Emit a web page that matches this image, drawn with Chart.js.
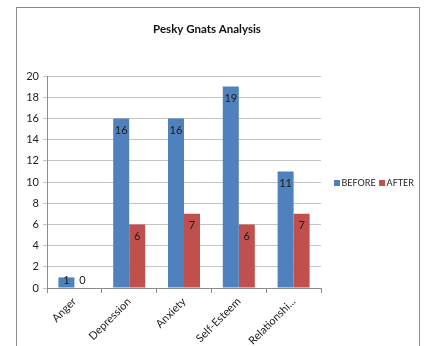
<!DOCTYPE html>
<html>
<head>
<meta charset="utf-8">
<style>
  html, body { margin: 0; padding: 0; background: #fff; }
  #wrap { width: 424px; height: 346px; }
</style>
<script src="https://cdn.jsdelivr.net/npm/chart.js@4/dist/chart.umd.min.js"></script>
</head>
<body>
<div id="wrap"><canvas id="c" width="424" height="346"></canvas></div>
<script>
const chartTitle = 'Pesky Gnats Analysis';
const categories = ['Anger', 'Depression', 'Anxiety', 'Self-Esteem', 'Relationshi...'];
const seriesNames = ['BEFORE', 'AFTER'];
const beforeValues = [1, 16, 16, 19, 11];
const afterValues = [0, 6, 7, 6, 7];
const yTicks = [0, 2, 4, 6, 8, 10, 12, 14, 16, 18, 20];

const FONT = 'Lato, "Open Sans", sans-serif';
const colors = ['#4F81BD', '#C0504D'];

// Frame, title and legend drawn around the plot
const decor = {
  id: 'decor',
  beforeDraw(chart) {
    const ctx = chart.ctx;
    ctx.save();
    ctx.fillStyle = '#fff';
    ctx.fillRect(0, 0, chart.width, chart.height);
    ctx.strokeStyle = '#8c8c8c';
    ctx.lineWidth = 1;
    ctx.strokeRect(16.5, 7.5, 403, 360);
    ctx.restore();
  },
  afterDraw(chart) {
    const ctx = chart.ctx;
    ctx.save();
    ctx.fillStyle = '#111';
    ctx.font = 'bold 11.5px ' + FONT;
    ctx.textAlign = 'center';
    ctx.textBaseline = 'middle';
    ctx.fillText(chartTitle, 207, 29);

    // legend
    ctx.font = '9px ' + FONT;
    ctx.textAlign = 'left';
    let x = 334;
    const y = 183;
    chart.data.datasets.forEach((ds) => {
      ctx.fillStyle = ds.backgroundColor;
      ctx.fillRect(x, y - 3, 6, 6);
      ctx.fillStyle = '#222';
      ctx.fillText(ds.label, x + 7.5, y + 0.5);
      x += 7.5 + ctx.measureText(ds.label).width + 3.5;
    });
    ctx.restore();
  }
};

// Value labels just inside the top of each bar
const valueLabels = {
  id: 'valueLabels',
  afterDatasetsDraw(chart) {
    const ctx = chart.ctx;
    const base = chart.scales.y.getPixelForValue(0);
    ctx.save();
    ctx.font = '11px ' + FONT;
    ctx.fillStyle = '#1a1a1a';
    ctx.textAlign = 'center';
    ctx.textBaseline = 'middle';
    chart.data.datasets.forEach((ds, di) => {
      chart.getDatasetMeta(di).data.forEach((bar, i) => {
        const ty = Math.min(bar.y + 12, base - 8);
        ctx.fillText(String(ds.data[i]), bar.x, ty);
      });
    });
    ctx.restore();
  }
};

new Chart(document.getElementById('c'), {
  type: 'bar',
  data: {
    labels: categories,
    datasets: [
      { label: seriesNames[0], data: beforeValues, backgroundColor: colors[0] },
      { label: seriesNames[1], data: afterValues, backgroundColor: colors[1] }
    ]
  },
  options: {
    responsive: false,
    animation: false,
    devicePixelRatio: 1,
    layout: { padding: { top: 76, right: 103, left: 0, bottom: 0 } },
    datasets: { bar: { categoryPercentage: 0.584, barPercentage: 1.0 } },
    plugins: {
      legend: { display: false },
      title: { display: false },
      tooltip: { enabled: false }
    },
    scales: {
      x: {
        afterFit(s) { s.height = 58; },
        grid: {
          offset: true,
          drawOnChartArea: false,
          drawTicks: true,
          tickLength: 5,
          color: '#8c8c8c'
        },
        border: { color: '#8c8c8c' },
        ticks: {
          minRotation: 45,
          maxRotation: 45,
          autoSkip: false,
          padding: 2,
          color: '#222',
          font: { family: FONT, size: 11 }
        }
      },
      y: {
        min: 0,
        max: 20,
        afterFit(s) { s.width = 47; },
        afterBuildTicks(s) { s.ticks = yTicks.map(v => ({ value: v })); },
        grid: {
          color: '#c4c4c4',
          tickLength: 4,
          drawTicks: true
        },
        border: { color: '#8c8c8c' },
        ticks: {
          padding: 4,
          color: '#222',
          font: { family: FONT, size: 11 }
        }
      }
    }
  },
  plugins: [decor, valueLabels]
});
</script>
</body>
</html>
